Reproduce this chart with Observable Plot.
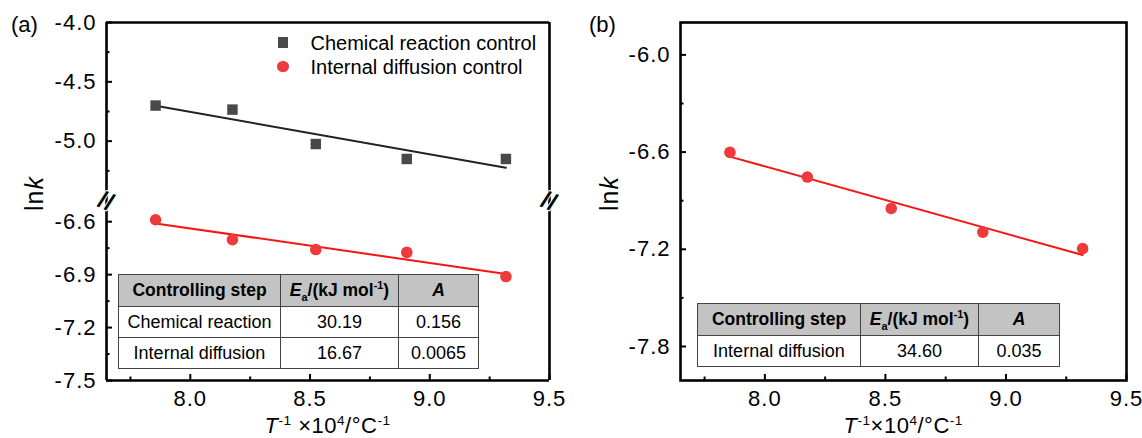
<!DOCTYPE html>
<html>
<head>
<meta charset="utf-8">
<script src="https://cdn.jsdelivr.net/npm/d3@7"></script>
<script src="https://cdn.jsdelivr.net/npm/@observablehq/plot@0.6"></script>
<style>
  body { margin: 0; background: #fff; }
  #root { position: relative; width: 1142px; height: 438px; background: #fff;
          font-family: "Liberation Sans", Arial, sans-serif; color: #000; }
  .abs { position: absolute; }
  .plot-wrap { position: absolute; }
  .plot-wrap svg { overflow: visible; }
  .plot-wrap svg text { letter-spacing: 1px; }
  table.kt { position: absolute; border-collapse: collapse; background: #fff; font-size: 18px; }
  table.kt td { border: 1.4px solid #444; text-align: center; padding: 0; white-space: nowrap; }
  table.kt tr.hd td { background: #c3c3c3; font-weight: bold; font-size: 17.5px; }
  .lab { position: absolute; font-size: 22px; white-space: nowrap; line-height: 1; }
  sup, sub { font-size: 62%; line-height: 0; }
</style>
</head>
<body>
<div id="root"></div>
<script>
// ---------- data ----------
const invT = [7.855, 8.176, 8.524, 8.904, 9.318];           // T^-1 ×10^4
const lnkChemA = [-4.70, -4.734, -5.024, -5.15, -5.15];     // (a) chemical reaction control
const lnkDiffA = [-6.589, -6.702, -6.758, -6.774, -6.911];  // (a) internal diffusion control
const lnkDiffB = [-6.602, -6.754, -6.948, -7.094, -7.196];  // (b) internal diffusion

const xDomain = [7.65, 9.5];
const xTicks = [8.0, 8.5, 9.0, 9.5];
const xMinor = [7.75, 8.25, 8.75, 9.25];

const yDomainAUpper = [-5.5, -4.0];
const yTicksAUpper = [-4.0, -4.5, -5.0];
const yMinorAUpper = [-4.25, -4.75, -5.25];
const yDomainALower = [-7.5, -6.48];
const yTicksALower = [-6.6, -6.9, -7.2, -7.5];
const yMinorALower = [-6.75, -7.05, -7.35];

const yDomainB = [-8.01, -5.8];
const yTicksB = [-6.0, -6.6, -7.2, -7.8];
const yMinorB = [-6.3, -6.9, -7.5];

const legendLabels = ["Chemical reaction control", "Internal diffusion control"];
const tableA = [["Chemical reaction", "30.19", "0.156"], ["Internal diffusion", "16.67", "0.0065"]];
const tableB = [["Internal diffusion", "34.60", "0.035"]];

// ---------- styling ----------
const C_CHEM = "#494949", C_DIFF = "#ee3a3c", C_LINE_RED = "#f51616", C_LINE_BLK = "#222";
const fmt = d => d.toFixed(1);
const font = { fontFamily: "Liberation Sans, Arial, sans-serif", fontSize: "22px", color: "#000", background: "transparent", overflow: "visible" };
const rec = ys => invT.map((x, i) => ({ x, y: ys[i] }));
const FW = 2.6;

const root = document.getElementById("root");
function place(el, left, top) {
  const w = document.createElement("div");
  w.className = "plot-wrap";
  w.style.left = left + "px"; w.style.top = top + "px";
  w.appendChild(el); root.appendChild(w);
}

// inward tick stubs: zero-length rules at the frame edge, extended inward by a negative inset
function yAxes(ticks, minor) {
  return [
    Plot.axisY(ticks, { tickSize: 0, tickPadding: 10, tickFormat: fmt, label: null }),
    Plot.ruleY(ticks, { y: d => d, x1: () => xDomain[0], x2: () => xDomain[0], insetRight: -6, stroke: "#000", strokeWidth: 2 }),
    Plot.ruleY(minor, { y: d => d, x1: () => xDomain[0], x2: () => xDomain[0], insetRight: -3.5, stroke: "#000", strokeWidth: 2 })
  ];
}
function xAxes(yBottom) {
  return [
    Plot.axisX(xTicks, { anchor: "bottom", tickSize: 0, tickPadding: 10, tickFormat: fmt, label: null }),
    Plot.ruleX(xTicks, { x: d => d, y1: () => yBottom, y2: () => yBottom, insetTop: -6, stroke: "#000", strokeWidth: 2 }),
    Plot.ruleX(xMinor, { x: d => d, y1: () => yBottom, y2: () => yBottom, insetTop: -3.5, stroke: "#000", strokeWidth: 2 })
  ];
}

// ---------- panel (a) upper segment ----------
const aTop = Plot.plot({
  width: 580, height: 200, marginTop: 22, marginBottom: 0, marginLeft: 106, marginRight: 31,
  style: font,
  x: { domain: xDomain, axis: null },
  y: { domain: yDomainAUpper },
  marks: [
    Plot.ruleX(xDomain, { strokeWidth: FW, stroke: "#000" }),
    Plot.ruleY([yDomainAUpper[1]], { strokeWidth: FW, stroke: "#000" }),
    ...yAxes(yTicksAUpper, yMinorAUpper),
    Plot.linearRegressionY(rec(lnkChemA), { x: "x", y: "y", stroke: C_LINE_BLK, strokeWidth: 2, ci: 0 }),
    Plot.dot(rec(lnkChemA), { x: "x", y: "y", symbol: "square", r: 5.9, fill: C_CHEM, stroke: "none" })
  ]
});
place(aTop, 0, 0);

// ---------- panel (a) lower segment ----------
const aBot = Plot.plot({
  width: 580, height: 238, marginTop: 0, marginBottom: 58, marginLeft: 106, marginRight: 31,
  style: font,
  x: { domain: xDomain },
  y: { domain: yDomainALower },
  marks: [
    Plot.ruleX(xDomain, { strokeWidth: FW, stroke: "#000" }),
    Plot.ruleY([yDomainALower[0]], { strokeWidth: FW, stroke: "#000" }),
    ...yAxes(yTicksALower, yMinorALower),
    ...xAxes(yDomainALower[0]),
    Plot.linearRegressionY(rec(lnkDiffA), { x: "x", y: "y", stroke: C_LINE_RED, strokeWidth: 2, ci: 0 }),
    Plot.dot(rec(lnkDiffA), { x: "x", y: "y", r: 5.8, fill: C_DIFF, stroke: "none" }),
    Plot.text(xDomain, { x: d => d, y: () => yDomainALower[1], text: () => "//", fontSize: 24, fontWeight: "bold",
      rotate: 22, fill: "#000", stroke: "#fff", strokeWidth: 2, paintOrder: "stroke", dy: 1 })
  ]
});
place(aBot, 0, 200);

// ---------- panel (b) ----------
const bPlot = Plot.plot({
  width: 562, height: 438, marginTop: 22, marginBottom: 58, marginLeft: 100, marginRight: 16,
  style: font,
  x: { domain: xDomain },
  y: { domain: yDomainB },
  marks: [
    Plot.frame({ strokeWidth: FW, stroke: "#000" }),
    ...yAxes(yTicksB, yMinorB),
    ...xAxes(yDomainB[0]),
    Plot.linearRegressionY(rec(lnkDiffB), { x: "x", y: "y", stroke: C_LINE_RED, strokeWidth: 2, ci: 0 }),
    Plot.dot(rec(lnkDiffB), { x: "x", y: "y", r: 5.8, fill: C_DIFF, stroke: "none" })
  ]
});
place(bPlot, 580, 0);

// ---------- texts ----------
function addLabel(html, left, top, extra) {
  const d = document.createElement("div");
  d.className = "lab"; d.innerHTML = html;
  d.style.left = left + "px"; d.style.top = top + "px";
  if (extra) Object.assign(d.style, extra);
  root.appendChild(d); return d;
}
addLabel("(a)", 11, 14);
addLabel("(b)", 589, 14);
function yTitle(cx, cy) {
  const d = addLabel("ln<i>k</i>", 0, 0, { fontSize: "25px", letterSpacing: "1px" });
  d.style.left = (cx - d.offsetWidth / 2) + "px";
  d.style.top = (cy - d.offsetHeight / 2) + "px";
  d.style.transform = "rotate(-90deg)";
}
yTitle(34, 193);
yTitle(609, 193);
function xTitle(html, cx) {
  const d = addLabel(html, 0, 0, { letterSpacing: "0.5px" });
  d.style.left = (cx - d.offsetWidth / 2) + "px";
  d.style.top = "415px";
}
xTitle("<i>T</i><sup>-1</sup> ×10<sup>4</sup>/°C<sup>-1</sup>", 327.5);
xTitle("<i>T</i><sup>-1</sup>×10<sup>4</sup>/°C<sup>-1</sup>", 903);

// legend
const legSyms = [
  { color: C_CHEM, radius: "0", size: 10.5 },
  { color: C_DIFF, radius: "50%", size: 11.6 }
];
legendLabels.forEach((t, i) => {
  const cy = 42.7 + i * 24;
  const s = legSyms[i];
  const m = document.createElement("div");
  m.className = "abs";
  Object.assign(m.style, { left: (283.2 - s.size / 2) + "px", top: (cy - s.size / 2) + "px", width: s.size + "px",
    height: s.size + "px", background: s.color, borderRadius: s.radius });
  root.appendChild(m);
  const l = addLabel(t, 310.5, 0, { fontSize: "20px" });
  l.style.top = (cy - l.offsetHeight / 2) + "px";
});

// tables
function makeTable(rows, left, top, widths) {
  const tb = document.createElement("table");
  tb.className = "kt";
  tb.style.left = left + "px"; tb.style.top = top + "px";
  const hd = document.createElement("tr"); hd.className = "hd";
  ["Controlling step", "<i>E</i><sub>a</sub>/(kJ mol<sup>-1</sup>)", "<i>A</i>"].forEach((h, j) => {
    const td = document.createElement("td"); td.innerHTML = h;
    td.style.width = widths[j] + "px"; td.style.height = "31px"; hd.appendChild(td);
  });
  tb.appendChild(hd);
  rows.forEach(r => {
    const tr = document.createElement("tr");
    r.forEach(v => { const td = document.createElement("td"); td.textContent = v; td.style.height = "30px"; tr.appendChild(td); });
    tb.appendChild(tr);
  });
  root.appendChild(tb);
}
makeTable(tableA, 118, 274, [161, 117, 79]);
makeTable(tableB, 697, 303, [162, 117, 80]);
</script>
</body>
</html>
